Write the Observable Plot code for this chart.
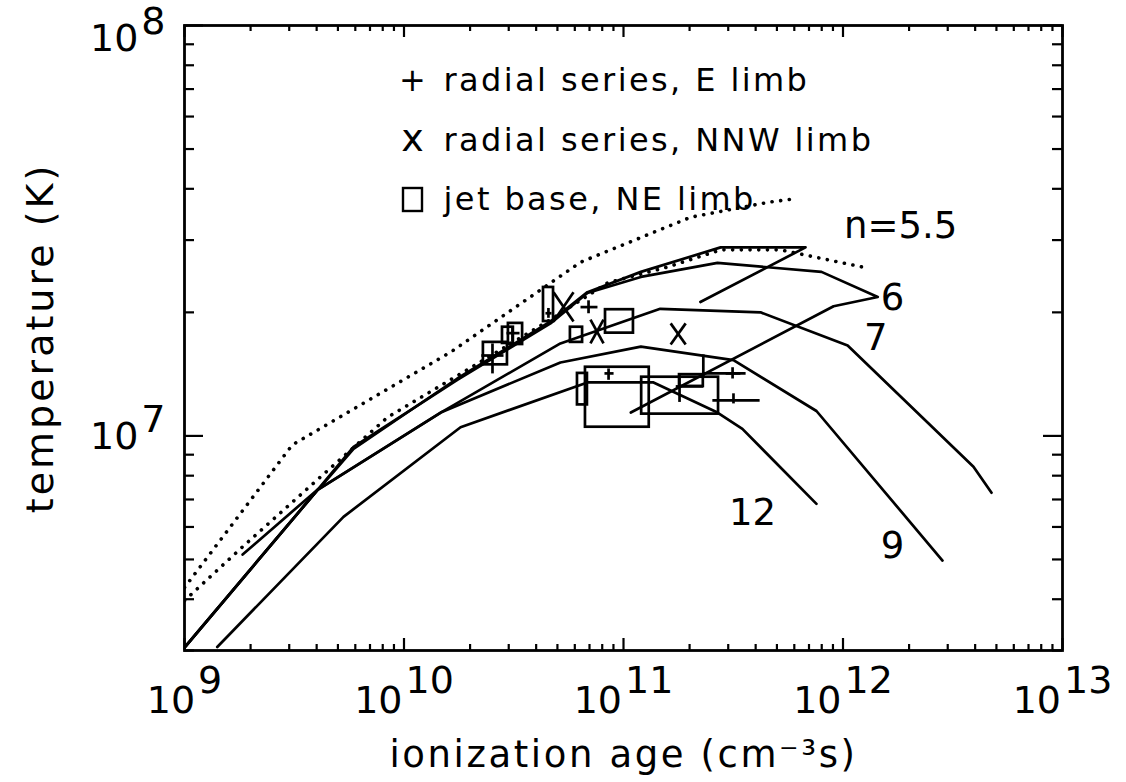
<!DOCTYPE html>
<html><head><meta charset="utf-8">
<script src="https://cdn.jsdelivr.net/npm/d3@7"></script>
<script src="https://cdn.jsdelivr.net/npm/@observablehq/plot@0.6"></script>
<style>
html,body{margin:0;padding:0;background:#fff;}
svg{display:block;}
</style>
</head><body><div id="chart"></div>
<script>
// ---------------- data ----------------
const xTickValues = [1e9, 1e10, 1e11, 1e12, 1e13];
const xTickExps = ["9", "10", "11", "12", "13"];
const yTickValues = [1e7, 1e8];
const yTickExps = ["7", "8"];

// model curves (ionization age, temperature)
const n55X = [1.84e9, 4.17e9, 5.89e9, 1.75e10, 4.65e10, 6.85e10, 1.20e11, 2.77e11, 6.75e11, 2.24e11];
const n55Y = [5.14e6, 7.51e6, 9.30e6, 1.38e7, 1.90e7, 2.24e7, 2.51e7, 2.88e7, 2.88e7, 2.12e7];
const n6X = [1.0e9, 4.04e9, 5.89e9, 1.75e10, 4.65e10, 6.85e10, 1.20e11, 2.68e11, 7.98e11, 1.44e12, 9.06e11, 1.08e11];
const n6Y = [3.05e6, 7.39e6, 9.40e6, 1.37e7, 1.88e7, 2.23e7, 2.44e7, 2.64e7, 2.51e7, 2.18e7, 2.07e7, 1.14e7];
const n7X = [1.0e9, 4.04e9, 1.47e10, 5.16e10, 1.47e11, 4.21e11, 1.05e12, 3.93e12, 4.75e12];
const n7Y = [3.05e6, 7.39e6, 1.14e7, 1.68e7, 2.04e7, 2.00e7, 1.66e7, 8.41e6, 7.27e6];
const n9X = [1.0e9, 4.04e9, 1.47e10, 5.16e10, 1.20e11, 3.17e11, 7.57e11, 2.84e12];
const n9Y = [3.05e6, 7.39e6, 1.14e7, 1.51e7, 1.65e7, 1.53e7, 1.15e7, 4.97e6];
const n12X = [1.41e9, 5.30e9, 1.81e10, 6.85e10, 1.37e11, 2.68e11, 3.48e11, 7.57e11];
const n12Y = [3.06e6, 6.35e6, 1.05e7, 1.35e7, 1.35e7, 1.14e7, 1.04e7, 6.83e6];

// dotted curves
const dotUpX = [1.0e9, 3.10e9, 1.63e10, 6.37e10, 2.02e11, 4.58e11, 6.20e11];
const dotUpY = [4.27e6, 9.51e6, 1.60e7, 2.65e7, 3.41e7, 3.71e7, 3.79e7];
const dotLoX = [1.0e9, 1.84e9, 4.17e9, 8.41e9, 2.30e10, 4.65e10, 8.46e10, 1.59e11, 2.77e11, 5.19e11, 1.31e12];
const dotLoY = [3.97e6, 5.37e6, 7.95e6, 1.11e7, 1.53e7, 1.92e7, 2.36e7, 2.58e7, 2.84e7, 2.84e7, 2.56e7];

// + radial series, E limb (centre and error extents)
const eX   = [2.53e10, 3.12e10, 4.55e10, 6.93e10, 8.55e10, 1.80e11, 2.31e11, 3.14e11, 3.17e11];
const eY   = [1.57e7, 1.78e7, 1.99e7, 2.06e7, 1.42e7, 1.32e7, 1.42e7, 1.42e7, 1.22e7];
const eXlo = [2.25e10, 2.93e10, 4.41e10, 6.37e10, 8.19e10, 1.73e11, 2.31e11, 2.92e11, 2.54e11];
const eXhi = [2.84e10, 3.36e10, 4.70e10, 7.61e10, 9.01e10, 2.31e11, 3.60e11, 3.41e11, 4.17e11];
const eYlo = [1.42e7, 1.70e7, 1.94e7, 1.99e7, 1.37e7, 1.21e7, 1.39e7, 1.38e7, 1.20e7];
const eYhi = [1.68e7, 1.84e7, 2.05e7, 2.14e7, 1.46e7, 1.41e7, 1.58e7, 1.47e7, 1.27e7];

// x radial series, NNW limb (extents)
const wXlo = [4.80e10, 7.07e10, 1.64e11];
const wXhi = [5.92e10, 8.11e10, 1.92e11];
const wYlo = [1.90e7, 1.68e7, 1.67e7];
const wYhi = [2.24e7, 1.92e7, 1.88e7];

// box jet base, NE limb (extents)
const jXlo = [2.30e10, 2.81e10, 2.99e10, 4.32e10, 5.73e10, 8.28e10, 6.71e10, 6.17e10, 1.21e11, 1.80e11];
const jXhi = [2.96e10, 3.15e10, 3.47e10, 4.80e10, 6.51e10, 1.11e11, 1.31e11, 6.85e10, 2.71e11, 2.31e11];
const jYlo = [1.49e7, 1.68e7, 1.67e7, 1.90e7, 1.69e7, 1.78e7, 1.05e7, 1.19e7, 1.13e7, 1.32e7];
const jYhi = [1.69e7, 1.84e7, 1.88e7, 2.30e7, 1.84e7, 2.03e7, 1.47e7, 1.42e7, 1.39e7, 1.41e7];

// curve labels
const curveLabels = ["n=5.5", "6", "7", "9", "12"];
const curveLabelX = [1.83e12, 1.68e12, 1.41e12, 1.68e12, 3.87e11];
const curveLabelY = [3.24e7, 2.17e7, 1.73e7, 5.40e6, 6.50e6];

// legend
const legendSymbols = ["+", "x", "box"];
const legendLabels = ["radial series, E limb", "radial series, NNW limb", "jet base, NE limb"];

const xTitle = "ionization age (cm\u207B\u00B3s)";
const yTitle = "temperature (K)";

// ---------------- layout ----------------
const W = 1126, H = 782, ML = 184, MR = 64, MT = 25, MB = 132;
const PW = W - ML - MR, PH = H - MT - MB;
const FONT = "DejaVu Sans";
const LW = 2.7;
const pts = (xs, ys) => xs.map((x, i) => ({x, y: ys[i]}));

const marks = [];

// solid model curves
for (const [xs, ys] of [[n55X, n55Y], [n6X, n6Y], [n7X, n7Y], [n9X, n9Y], [n12X, n12Y]]) {
  marks.push(Plot.line(pts(xs, ys), {x: "x", y: "y", stroke: "black", strokeWidth: LW, strokeLinejoin: "round", clip: true}));
}
// dotted curves
for (const [xs, ys] of [[dotUpX, dotUpY], [dotLoX, dotLoY]]) {
  marks.push(Plot.line(pts(xs, ys), {x: "x", y: "y", stroke: "black", strokeWidth: 3.6, strokeDasharray: "0.1 8.6", strokeLinecap: "round", clip: true}));
}

// + markers
const eData = eX.map((x, i) => ({x, y: eY[i], xlo: eXlo[i], xhi: eXhi[i], ylo: eYlo[i], yhi: eYhi[i]}));
marks.push(Plot.link(eData, {x1: "xlo", x2: "xhi", y1: "y", y2: "y", stroke: "black", strokeWidth: LW}));
marks.push(Plot.link(eData, {x1: "x", x2: "x", y1: "ylo", y2: "yhi", stroke: "black", strokeWidth: LW}));

// x markers
const wData = wXlo.map((x, i) => ({xlo: x, xhi: wXhi[i], ylo: wYlo[i], yhi: wYhi[i]}));
marks.push(Plot.link(wData, {x1: "xlo", x2: "xhi", y1: "ylo", y2: "yhi", stroke: "black", strokeWidth: LW}));
marks.push(Plot.link(wData, {x1: "xlo", x2: "xhi", y1: "yhi", y2: "ylo", stroke: "black", strokeWidth: LW}));

// box markers
const jData = jXlo.map((x, i) => ({x1: x, x2: jXhi[i], y1: jYlo[i], y2: jYhi[i]}));
marks.push(Plot.rect(jData, {x1: "x1", x2: "x2", y1: "y1", y2: "y2", fill: "none", stroke: "black", strokeWidth: LW}));

// curve labels
marks.push(Plot.text(curveLabels.map((t, i) => ({t, x: curveLabelX[i], y: curveLabelY[i]})),
  {x: "x", y: "y", text: "t", fontSize: 37, fontFamily: FONT, textAnchor: "middle", lineAnchor: "middle", fill: "black"}));

// ticks (inward, all four sides)
const xMinor = [], yMinor = [3e6];
for (let k = 9; k < 13; k++) for (let m = 2; m <= 9; m++) xMinor.push(m * 10 ** k);
for (let m = 4; m <= 9; m++) yMinor.push(m * 1e6);
for (let m = 2; m <= 9; m++) yMinor.push(m * 1e7);
marks.push(Plot.tickX(xTickValues, {x: d => d, insetTop: PH - 12, stroke: "black", strokeWidth: 2.2}));
marks.push(Plot.tickX(xMinor, {x: d => d, insetTop: PH - 6, stroke: "black", strokeWidth: 2.2}));
marks.push(Plot.tickX(xTickValues, {x: d => d, insetBottom: PH - 12, stroke: "black", strokeWidth: 2.2}));
marks.push(Plot.tickX(xMinor, {x: d => d, insetBottom: PH - 6, stroke: "black", strokeWidth: 2.2}));
marks.push(Plot.tickY(yTickValues, {y: d => d, insetRight: PW - 19, stroke: "black", strokeWidth: 2.2}));
marks.push(Plot.tickY(yMinor, {y: d => d, insetRight: PW - 10, stroke: "black", strokeWidth: 2.2}));
marks.push(Plot.tickY(yTickValues, {y: d => d, insetLeft: PW - 19, stroke: "black", strokeWidth: 2.2}));
marks.push(Plot.tickY(yMinor, {y: d => d, insetLeft: PW - 10, stroke: "black", strokeWidth: 2.2}));

marks.push(Plot.frame({stroke: "black", strokeWidth: 2.8}));

// x tick labels: "10" + superscript exponent
const TF = 38, DIG = 0.636 * TF;
xTickValues.forEach((v, i) => {
  const e = xTickExps[i];
  const wb = 2 * DIG, ws = e.length * DIG, wt = wb + 3 + ws;
  marks.push(Plot.text([v], {x: d => d, frameAnchor: "bottom", text: () => "10", textAnchor: "start", lineAnchor: "bottom", dx: -wt / 2, dy: 62, fontSize: TF, fontFamily: FONT}));
  marks.push(Plot.text([v], {x: d => d, frameAnchor: "bottom", text: () => e, textAnchor: "start", lineAnchor: "bottom", dx: -wt / 2 + wb + 3, dy: 42, fontSize: TF, fontFamily: FONT}));
});
// y tick labels
yTickValues.forEach((v, i) => {
  const e = yTickExps[i];
  const ws = e.length * DIG;
  const supDy = (v === 1e8) ? 8 : -4;
  marks.push(Plot.text([v], {y: d => d, frameAnchor: "left", text: () => e, textAnchor: "end", lineAnchor: "bottom", dx: -19, dy: supDy, fontSize: TF, fontFamily: FONT}));
  marks.push(Plot.text([v], {y: d => d, frameAnchor: "left", text: () => "10", textAnchor: "end", lineAnchor: "bottom", dx: -19 - ws - 3, dy: supDy + 17, fontSize: TF, fontFamily: FONT}));
});

// axis titles
marks.push(Plot.text([xTitle], {frameAnchor: "bottom", text: d => d, textAnchor: "middle", lineAnchor: "bottom", dy: 116, fontSize: 37, fontFamily: FONT}));
marks.push(Plot.text([yTitle], {frameAnchor: "left", text: d => d, rotate: -90, textAnchor: "middle", lineAnchor: "middle", dx: -144, fontSize: 38, fontFamily: FONT}));

// legend
const legBase = [90, 150, 209];
legendSymbols.forEach((s, i) => {
  if (s === "box") {
    marks.push(Plot.rect([0], {insetLeft: 403 - ML, insetRight: ML + PW - 422, insetTop: legBase[i] - 21 - MT, insetBottom: MT + PH - legBase[i] - 2, fill: "none", stroke: "black", strokeWidth: 2.4}));
  } else {
    marks.push(Plot.text([s], {frameAnchor: "top-left", text: d => d, textAnchor: "middle", lineAnchor: "bottom", dx: 412 - ML, dy: legBase[i] - MT, fontSize: s === "x" ? 38 : 32, fontFamily: FONT}));
  }
  marks.push(Plot.text([legendLabels[i]], {frameAnchor: "top-left", text: d => d, textAnchor: "start", lineAnchor: "bottom", dx: 443 - ML, dy: legBase[i] - MT, fontSize: 32, fontFamily: FONT}));
});

const svg = Plot.plot({
  width: W, height: H,
  marginLeft: ML, marginRight: MR, marginTop: MT, marginBottom: MB,
  x: {type: "log", domain: [1e9, 1e13], axis: null},
  y: {type: "log", domain: [3e6, 1e8], axis: null},
  style: {background: "white", color: "black"},
  marks
});
document.getElementById("chart").appendChild(svg);

// letter spacing for the long texts to mimic the wide original font
d3.select(svg).selectAll("text").each(function () {
  const t = this.textContent;
  if (legendLabels.includes(t)) this.style.letterSpacing = "2.4px";
  else if (t === xTitle) this.style.letterSpacing = "2.6px";
  else if (t === yTitle) this.style.letterSpacing = "3px";
});
</script>
</body></html>
